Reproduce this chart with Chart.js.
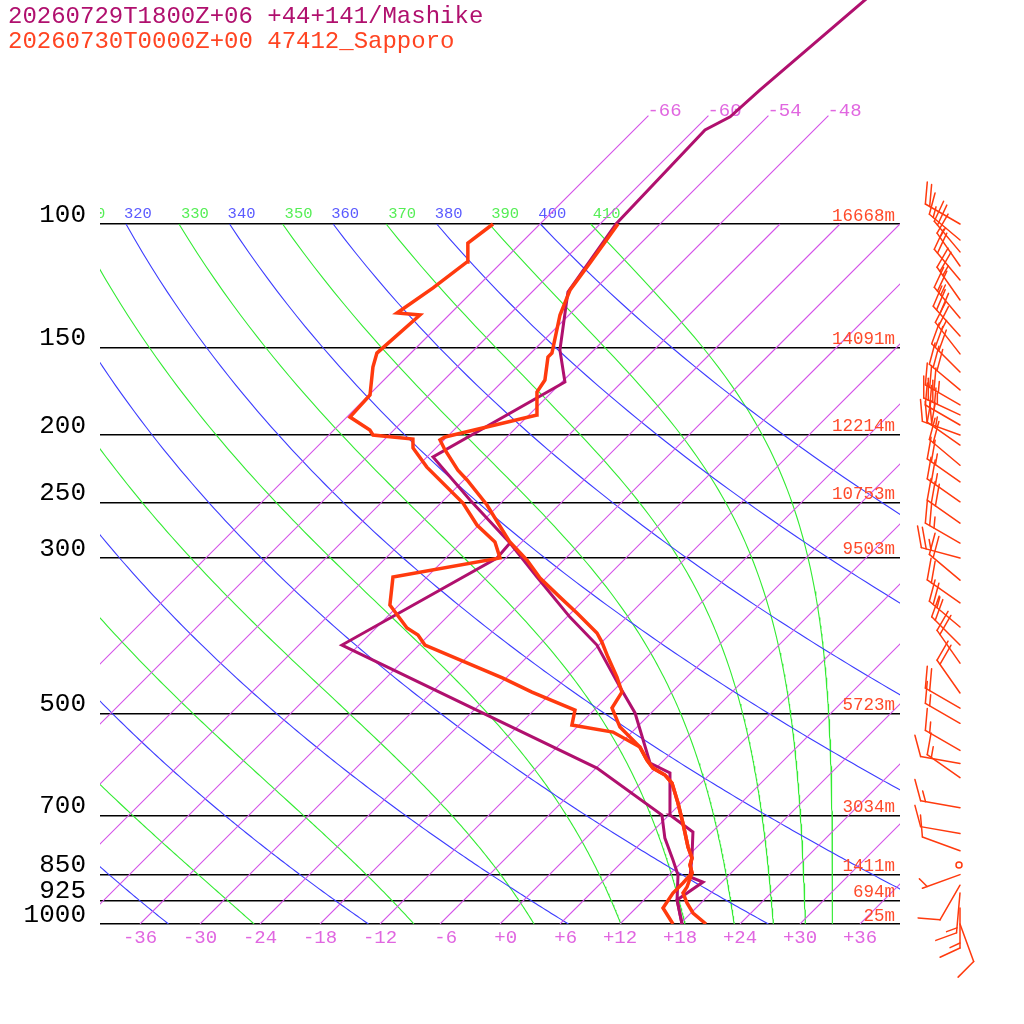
<!DOCTYPE html>
<html><head><meta charset="utf-8">
<script src="https://cdn.jsdelivr.net/npm/chart.js@4.4.1/dist/chart.umd.min.js"></script>
<style>html,body{margin:0;padding:0;background:#fff;}canvas{display:block;}</style>
</head><body>
<canvas id="c" width="1024" height="1024"></canvas>
<script>
// ---------------- DATA ----------------
const titleMashike = '20260729T1800Z+06 +44+141/Mashike';
const titleSapporo = '20260730T0000Z+00 47412_Sapporo';

const pressureTicks = [100,150,200,250,300,500,700,850,925,1000];
const heightLabels = ['16668m','14091m','12214m','10753m','9503m','5723m','3034m','1411m','694m','25m'];
const tempTicks = [-36,-30,-24,-18,-12,-6,0,6,12,18,24,30,36];

const isotherms = [-66,-60,-54,-48,-42,-36,-30,-24,-18,-12,-6,0,6,12,18,24,30,36];
const labelledIsotherms = [-66,-60,-54,-48];
const dryThetas = [240,260,280,300,320,340,360,380,400];
const moistThetaEs = [250,270,290,310,330,350,370,390,410];

// Sapporo (47412) temperature
const sapporoTP = [1000,964.4,933.3,903.1,885.4,845.5,823.6,804.9,776.2,717.5,671.7,628.9,612.6,598.7,583.2,558.8,523.2,491.4,466.3,443.8,415.6,395.6,384.0,359.6,341.2,320.4,302.0,284.7,267.4,252.0,232.1,224.7,210.3,203.5,201.5,187.5,173.8,167.1,154.9,152.9,134.9,124.2,113.7,100];
const sapporoT  = [20.6,18.2,16.6,15.2,15.0,14.1,13.1,12.6,11.1,8.2,5.7,3.1,1.6,-0.3,-1.7,-3.7,-7.7,-10.4,-11.0,-13.0,-15.9,-18.0,-19.4,-23.4,-26.7,-30.6,-33.7,-37.2,-40.3,-43.2,-47.7,-49.6,-52.9,-54.4,-54.2,-47.2,-49.5,-49.9,-51.9,-51.9,-54.9,-56.4,-57.1,-58.2];
// Sapporo dew point
const sapporoTdP = [1000,948.7,903.1,873.8,845.5,823.6,804.9,776.2,717.5,671.7,628.9,612.6,598.7,583.2,558.8,531.9,519.8,494.7,466.3,445.3,399.5,386.5,377.7,350.3,319.4,300.0,284.7,269.2,250.4,222.5,208.9,202.9,200.2,197.0,188.7,175.5,160.1,152.9,134.9,134.0,123.4,113.3,106.5,100];
const sapporoTd  = [17.3,14.7,14.2,14.2,14.1,13.1,12.6,11.1,8.2,5.7,3.1,1.6,-0.3,-1.7,-3.7,-7.9,-12.7,-13.9,-20.0,-24.3,-35.4,-37.1,-38.9,-42.9,-45.4,-36.6,-38.7,-42.2,-45.8,-53.0,-56.3,-57.2,-61.6,-62.4,-65.7,-65.9,-68.4,-69.4,-68.9,-71.4,-70.3,-69.5,-71.3,-70.7];

// Mashike (+44+141) temperature
const mashikeTP = [1000,923.9,871.0,856.8,802.3,739.0,698.8,608.6,588.8,499.5,458.7,399.5,364.4,319.4,285.6,247.9,215.2,168.2,151.4,125.1,100,73.4,70.3,64.4,40];
const mashikeT  = [18.2,15.3,16.1,14.3,12.5,10.1,6.1,1.9,-1.1,-7.6,-11.7,-18.2,-23.7,-31.0,-37.1,-45.4,-53.4,-47.7,-51.4,-56.4,-58.4,-58.9,-57.7,-57.4,-55.0];
// Mashike dew point
const mashikeTdP = [1000,923.9,851.1,810.2,753.9,698.8,598.7,399.5,300,285.6];
const mashikeTd  = [18.2,15.3,12.9,10.9,7.9,5.3,-5.9,-43.7,-36.9,-37.1];

// Sapporo winds (hPa, degrees, knots)
const windP   = [100,105.4,109.6,114.8,120.2,128.4,136.2,144.5,153.3,162.7,172.6,181.3,187.4,193.7,200.2,206.9,221.1,233.6,249.4,267.5,285.6,300,322.7,347.8,376.4,399.5,424.0,467.7,491.7,516.8,564.9,589.8,617.9,682.1,742.7,785.7,823.6,850,880.2,903.1,948.7,1000];
const windDir = [300,310,320,325,320,325,320,318,322,315,310,300,295,300,290,305,310,305,305,305,300,285,310,305,310,315,325,325,300,300,300,280,305,280,280,290,0,250,210,185,180,160];
const windSpd = [20,15,20,15,20,25,25,30,25,30,30,35,35,30,30,25,20,25,25,30,25,25,20,20,25,20,20,20,20,15,15,10,15,15,10,10,0,5,10,15,15,10];

// ---------------- HELPERS ----------------
const SKEW = 70; // degC of shift per decade of pressure
const skewX = (T, p) => T + SKEW * Math.log10(1000 / p);
const pts = (P, T) => P.map((p, i) => ({x: skewX(T[i], p), y: p}));

function esat(Tc){ return 6.112 * Math.exp(17.67 * Tc / (Tc + 243.5)); }
function thetaE(Tc, p){
  const e = esat(Tc);
  if (e >= 0.5 * p) return 1e9;
  const r = 0.622 * e / (p - e), TK = Tc + 273.15, rg = r * 1000;
  return TK * Math.pow(1000 / p, 0.2854 * (1 - 0.28 * r)) * Math.exp((3.376 / TK - 0.00254) * rg * (1 + 0.81e-3 * rg));
}
function moistT(th, p){
  let lo = -170, hi = 60;
  for (let i = 0; i < 60; i++){ const m = (lo + hi) / 2; if (thetaE(m, p) > th) hi = m; else lo = m; }
  return (lo + hi) / 2;
}
const dryT = (th, p) => th * Math.pow(p / 1000, 0.2857) - 273.15;

const pGrid = [];
for (let p = 100; p <= 1000; p += 5) pGrid.push(p);

const COL = {
  mash: '#b0106e', sap: '#ff3a0e', iso: 'rgb(212,84,232)', isoLbl: '#e066e0',
  dry: 'rgb(60,60,255)', dryLbl: '#5a5aff', moist: 'rgb(50,235,50)', moistLbl: '#55ee55', hgt: '#ff4a2a'
};

const datasets = [];
const lineDs = (data, color, width, order) => ({data, showLine: true, borderColor: color, backgroundColor: color, borderWidth: width, pointRadius: 0, pointHoverRadius: 0, fill: false, order});

datasets.push(lineDs(pts(sapporoTP, sapporoT), COL.sap, 3.5, 0));
datasets.push(lineDs(pts(sapporoTdP, sapporoTd), COL.sap, 3.5, 0));
datasets.push(lineDs(pts(mashikeTP, mashikeT), COL.mash, 3, 1));
datasets.push(lineDs(pts(mashikeTdP, mashikeTd), COL.mash, 3, 1));

isotherms.forEach(T => {
  const top = labelledIsotherms.includes(T) ? 70 : 100;
  const ps = [1000, 850, 700, 500, 300, 200, 150, top];
  datasets.push(lineDs(ps.map(p => ({x: skewX(T, p), y: p})), COL.iso, 1.1, 10));
});
dryThetas.forEach(th => {
  datasets.push(lineDs(pGrid.map(p => ({x: skewX(dryT(th, p), p), y: p})), COL.dry, 1.1, 11));
});
moistThetaEs.forEach(th => {
  datasets.push(lineDs(pGrid.map(p => ({x: skewX(moistT(th, p), p), y: p})), COL.moist, 1.1, 11));
});

const fmtT = v => { let s = v > 0 ? '+' + v : (v === 0 ? '+0' : String(v)); return s.padStart(3, ' '); };

// ---------------- PLUGINS ----------------
const labelPlugin = {
  id: 'skewLabels',
  beforeDatasetsDraw(chart){
    const {ctx, chartArea: a, scales: {x, y}} = chart;
    ctx.save();
    ctx.beginPath(); ctx.rect(a.left, 0, a.right - a.left, a.bottom); ctx.clip();
    ctx.textAlign = 'left'; ctx.textBaseline = 'alphabetic';
    ctx.font = '15.5px "Liberation Mono", monospace';
    const y100 = y.getPixelForValue(100);
    dryThetas.forEach(th => {
      ctx.fillStyle = COL.dryLbl;
      ctx.fillText(String(th), x.getPixelForValue(skewX(dryT(th, 100), 100)) - 2, y100 - 6);
    });
    moistThetaEs.forEach(th => {
      ctx.fillStyle = COL.moistLbl;
      ctx.fillText(String(th), x.getPixelForValue(skewX(moistT(th, 100), 100)) + 2, y100 - 6);
    });
    ctx.font = '19px "Liberation Mono", monospace';
    ctx.fillStyle = COL.isoLbl;
    labelledIsotherms.forEach(T => {
      ctx.fillText(String(T), x.getPixelForValue(skewX(T, 70)) - 1, y.getPixelForValue(70));
    });
    ctx.restore();
  },
  afterDatasetsDraw(chart){
    const {ctx, chartArea: a, scales: {y}} = chart;
    ctx.save();
    ctx.font = '17.5px "Liberation Mono", monospace';
    ctx.fillStyle = COL.hgt; ctx.textAlign = 'right'; ctx.textBaseline = 'alphabetic';
    pressureTicks.forEach((p, i) => ctx.fillText(heightLabels[i], a.right - 5, y.getPixelForValue(p) - 3.5));
    ctx.restore();
  }
};

const barbPlugin = {
  id: 'barbs',
  afterDatasetsDraw(chart){
    const {ctx, chartArea: a, scales: {y}} = chart;
    const bx = a.right + 60, L = 40, F = 22, step = 5, rot = 65 * Math.PI / 180;
    ctx.save();
    ctx.strokeStyle = COL.sap; ctx.lineWidth = 1.5; ctx.lineCap = 'round';
    windP.forEach((p, i) => {
      const by = y.getPixelForValue(p), spd = windSpd[i];
      if (spd < 2.5){ ctx.beginPath(); ctx.arc(bx - 1, by, 3, 0, 2 * Math.PI); ctx.stroke(); return; }
      const d = windDir[i] * Math.PI / 180, ux = Math.sin(d), uy = -Math.cos(d);
      const tx = bx + ux * L, ty = by + uy * L;
      ctx.beginPath(); ctx.moveTo(bx, by); ctx.lineTo(tx, ty); ctx.stroke();
      const fa = Math.atan2(uy, ux) + rot, fx = Math.cos(fa), fy = Math.sin(fa);
      const s = Math.round(spd / 5) * 5;
      const full = Math.floor(s / 10), half = (s % 10) >= 5;
      let pos = 0;
      for (let k = 0; k < full; k++){
        const sx = tx - ux * pos, sy = ty - uy * pos;
        ctx.beginPath(); ctx.moveTo(sx, sy); ctx.lineTo(sx + fx * F, sy + fy * F); ctx.stroke();
        pos += step;
      }
      if (half){
        if (full === 0) pos = step;
        const sx = tx - ux * pos, sy = ty - uy * pos;
        ctx.beginPath(); ctx.moveTo(sx, sy); ctx.lineTo(sx + fx * F / 2, sy + fy * F / 2); ctx.stroke();
      }
    });
    ctx.restore();
  }
};

const titlePlugin = {
  id: 'titles',
  afterDraw(chart){
    const ctx = chart.ctx;
    ctx.save();
    ctx.font = '24px "Liberation Mono", monospace';
    ctx.textAlign = 'left'; ctx.textBaseline = 'alphabetic';
    ctx.fillStyle = COL.mash; ctx.fillText(titleMashike, 8, 23);
    ctx.fillStyle = '#ff4422'; ctx.fillText(titleSapporo, 8, 48);
    ctx.restore();
  }
};

// ---------------- CHART ----------------
new Chart(document.getElementById('c'), {
  type: 'scatter',
  data: {datasets},
  options: {
    responsive: false, animation: false, devicePixelRatio: 1, events: [],
    layout: {padding: {left: 0, right: 124, top: 0, bottom: 0}},
    plugins: {legend: {display: false}, tooltip: {enabled: false}, title: {display: false}, colors: {enabled: false}},
    elements: {line: {tension: 0}, point: {radius: 0}},
    scales: {
      x: {
        type: 'linear', position: 'bottom', min: -40, max: 40,
        afterBuildTicks: s => { s.ticks = tempTicks.map(v => ({value: v})); },
        afterFit: s => { s.height = 100; s.paddingLeft = 0; s.paddingRight = 0; },
        grid: {display: false, drawTicks: false}, border: {display: false},
        ticks: {autoSkip: false, maxRotation: 0, padding: 3, color: COL.isoLbl,
                font: {family: 'Liberation Mono', size: 19}, callback: v => fmtT(v)}
      },
      y: {
        type: 'logarithmic', position: 'left', reverse: true, min: 1000 * Math.pow(10, -924 / 700), max: 1000,
        afterBuildTicks: s => { s.ticks = pressureTicks.map(v => ({value: v})); },
        afterFit: s => { s.width = 100; s.paddingTop = 0; s.paddingBottom = 0; },
        grid: {color: '#000', lineWidth: 1.4, drawTicks: false}, border: {display: false},
        ticks: {autoSkip: false, padding: 14, labelOffset: -9, color: '#000',
                font: {family: 'Liberation Mono', size: 26}, callback: v => String(v)}
      }
    }
  },
  plugins: [labelPlugin, barbPlugin, titlePlugin]
});
</script>
</body></html>
